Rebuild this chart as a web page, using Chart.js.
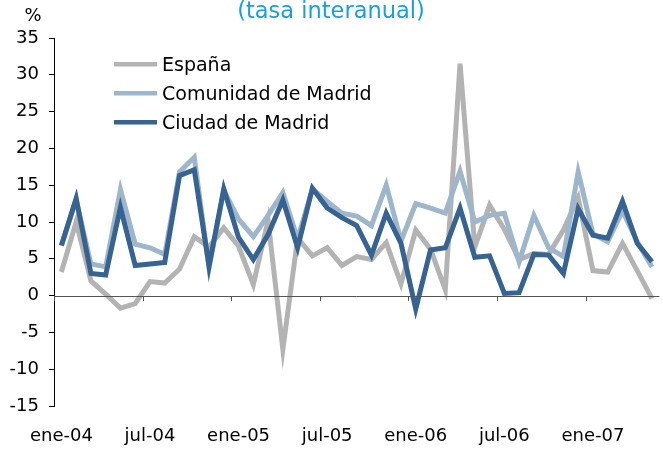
<!DOCTYPE html>
<html>
<head>
<meta charset="utf-8">
<script src="https://cdn.jsdelivr.net/npm/chart.js@4"></script>
<style>
html,body{margin:0;padding:0;background:#fff;overflow:hidden;width:663px;height:450px;}
canvas{display:block;}
</style>
</head>
<body>
<canvas id="c" width="672" height="450"></canvas>
<script>
const months = [
 'ene-04','feb-04','mar-04','abr-04','may-04','jun-04','jul-04','ago-04','sep-04','oct-04','nov-04','dic-04',
 'ene-05','feb-05','mar-05','abr-05','may-05','jun-05','jul-05','ago-05','sep-05','oct-05','nov-05','dic-05',
 'ene-06','feb-06','mar-06','abr-06','may-06','jun-06','jul-06','ago-06','sep-06','oct-06','nov-06','dic-06',
 'ene-07','feb-07','mar-07','abr-07','may-07'
];
const espana = [3.2,10.0,2.0,0.2,-1.7,-1.1,1.9,1.7,3.6,8.0,6.6,9.2,6.7,1.5,10.2,-7.3,7.8,5.4,6.5,4.1,5.3,4.9,7.2,1.6,8.9,6.3,0.8,31.5,6.6,12.3,9.0,4.9,5.7,5.6,8.9,13.3,3.4,3.2,7.1,3.4,-0.4];
const comunidad = [6.8,13.0,4.3,3.9,14.4,7.0,6.5,5.6,16.8,18.8,3.8,14.3,10.4,8.0,10.9,14.0,7.7,14.5,12.8,11.2,10.8,9.5,15.0,7.4,12.5,11.9,11.2,16.9,10.0,10.9,11.2,4.6,10.9,6.5,5.3,16.8,8.4,7.3,11.5,7.3,3.9];
const ciudad = [6.8,13.2,3.0,2.8,12.0,4.1,4.3,4.5,16.3,17.1,4.0,14.5,7.9,4.9,8.3,13.0,6.5,14.6,11.9,10.6,9.5,5.5,11.2,7.1,-1.8,6.2,6.5,11.9,5.2,5.4,0.3,0.4,5.6,5.5,3.0,11.8,8.2,7.8,12.8,7.1,4.6];
const seriesNames = ['España','Comunidad de Madrid','Ciudad de Madrid'];
const yMin = -15, yMax = 35, yStep = 5;
const labelEvery = 6;

const FONT = '"DejaVu Sans", sans-serif';
const colors = ['#b3b3b3', '#9db6cc', '#366391'];

const decor = {
  id: 'decor',
  afterDatasetsDraw(chart) {
    const ctx = chart.ctx;
    const x = chart.scales.x, y = chart.scales.y;
    const ca = chart.chartArea;
    const y0 = y.getPixelForValue(0);
    ctx.save();
    ctx.strokeStyle = '#555555';
    ctx.lineWidth = 1;
    ctx.beginPath();
    ctx.moveTo(ca.left, Math.round(y0) + 0.5);
    ctx.lineTo(ca.right, Math.round(y0) + 0.5);
    ctx.stroke();
    const half = (x.getPixelForValue(1) - x.getPixelForValue(0)) / 2;
    ctx.beginPath();
    for (let i = 0; i <= months.length; i += labelEvery) {
      const px = Math.round(x.getPixelForValue(i) - half) + 0.5;
      ctx.moveTo(px, Math.round(y0));
      ctx.lineTo(px, Math.round(y0) + 5);
    }
    ctx.stroke();
    ctx.restore();
  },
  afterDraw(chart) {
    const ctx = chart.ctx;
    ctx.save();
    ctx.fillStyle = '#1b9dde';
    ctx.font = '22.5px ' + FONT;
    ctx.textAlign = 'center';
    ctx.textBaseline = 'alphabetic';
    ctx.fillText('(tasa interanual)', 331, 17.5);
    ctx.fillStyle = '#000';
    ctx.font = '18px ' + FONT;
    ctx.fillText('%', 33, 21);
    ctx.font = '19px ' + FONT;
    ctx.textAlign = 'left';
    chart.data.datasets.forEach((ds, i) => {
      const ly = 64.3 + i * 29;
      ctx.strokeStyle = ds.borderColor;
      ctx.lineWidth = 4.5;
      ctx.beginPath();
      ctx.moveTo(114, ly);
      ctx.lineTo(157, ly);
      ctx.stroke();
      ctx.fillStyle = '#000';
      ctx.fillText(ds.label, 162, ly + 7);
    });
    ctx.restore();
  }
};

new Chart(document.getElementById('c'), {
  type: 'line',
  data: {
    labels: months,
    datasets: [
      { label: seriesNames[0], data: espana, borderColor: colors[0], order: 3 },
      { label: seriesNames[1], data: comunidad, borderColor: colors[1], order: 2 },
      { label: seriesNames[2], data: ciudad, borderColor: colors[2], order: 1 }
    ]
  },
  options: {
    responsive: false,
    devicePixelRatio: 1,
    animation: false,
    layout: { padding: { top: 38, right: 1, left: 0, bottom: 0 } },
    elements: {
      point: { radius: 0, hoverRadius: 0 },
      line: { borderWidth: 5, tension: 0, borderJoinStyle: 'miter', fill: false, borderCapStyle: 'butt' }
    },
    plugins: { legend: { display: false }, tooltip: { enabled: false }, title: { display: false } },
    scales: {
      x: {
        offset: true,
        grid: { display: false, drawTicks: false },
        border: { display: false },
        afterFit(s) { s.height = 44; },
        ticks: {
          autoSkip: false, maxRotation: 0, minRotation: 0, padding: 20,
          color: '#000', font: { family: FONT, size: 18 },
          callback(v, i) { return i % labelEvery === 0 ? months[i] : ''; }
        }
      },
      y: {
        min: yMin, max: yMax,
        afterFit(s) { s.width = 54; },
        grid: { drawOnChartArea: false, drawTicks: true, tickLength: 5, color: '#000' },
        border: { display: true, color: '#000', width: 1 },
        ticks: { stepSize: yStep, padding: 10, color: '#000', font: { family: FONT, size: 18 } }
      }
    }
  },
  plugins: [decor]
});
</script>
</body>
</html>
